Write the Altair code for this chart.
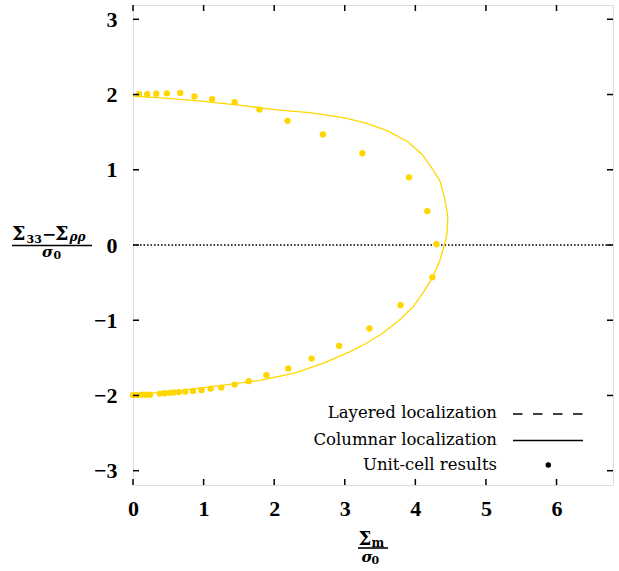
import altair as alt
import pandas as pd

# ---------------- data ----------------
curve_x = [0.0, 0.5, 1.0, 1.5, 2.0, 2.5, 3.0, 3.3, 3.6, 3.9, 4.1, 4.25, 4.35, 4.42, 4.46, 4.45,
           4.41, 4.35, 4.25, 4.12, 3.97, 3.77, 3.54, 3.3, 3.07, 2.7, 2.3, 1.8, 1.23, 0.8, 0.5, 0.0]
curve_y = [1.98, 1.95, 1.91, 1.86, 1.80, 1.76, 1.69, 1.62, 1.52, 1.37, 1.20, 1.00, 0.85, 0.60, 0.38, 0.15,
           0.0, -0.2, -0.42, -0.62, -0.82, -1.0, -1.17, -1.31, -1.42, -1.57, -1.70, -1.80, -1.87, -1.92, -1.95, -1.99]

dots_x = [0.085, 0.20, 0.33, 0.48, 0.67, 0.87, 1.12, 1.44, 1.79, 2.19, 2.69, 3.25, 3.91, 4.17, 4.30,
          4.24, 3.79, 3.35, 2.92, 2.53, 2.20, 1.89, 1.64, 1.44, 1.25, 1.10, 0.97, 0.85, 0.74, 0.65,
          0.58, 0.52, 0.45, 0.38, 0.24, 0.18, 0.12, 0.06, 0.0]
dots_y = [2.005, 2.005, 2.01, 2.015, 2.02, 1.975, 1.94, 1.90, 1.80, 1.65, 1.47, 1.22, 0.90, 0.45, 0.01,
          -0.43, -0.80, -1.11, -1.34, -1.51, -1.64, -1.73, -1.81, -1.855, -1.895, -1.91, -1.93, -1.94, -1.95, -1.955,
          -1.96, -1.965, -1.97, -1.975, -1.99, -1.99, -1.99, -1.995, -1.995]

x_ticks = [0, 1, 2, 3, 4, 5, 6]
y_ticks = [-3, -2, -1, 0, 1, 2, 3]
legend_labels = ["Layered localization", "Columnar localization", "Unit-cell results"]

X_DOMAIN = [0, 6.8]
Y_DOMAIN = [-3.19, 3.19]

GOLD = "#FFD700"
W, H = 480, 480

curve_df = pd.DataFrame({"x": curve_x, "y": curve_y, "i": list(range(len(curve_x)))})
dots_df = pd.DataFrame({"x": dots_x, "y": dots_y})
xt_df = pd.DataFrame({"v": x_ticks})
yt_df = pd.DataFrame({"v": y_ticks})

xs = alt.Scale(domain=X_DOMAIN, nice=False, zero=False)
ys = alt.Scale(domain=Y_DOMAIN, nice=False, zero=False)

x_axis = alt.Axis(values=x_ticks, title=None, domain=False, ticks=False, tickSize=0, grid=False,
                  labelFont="Liberation Serif", labelFontWeight="bold", labelFontSize=22,
                  labelColor="black", labelPadding=13, format="d", labelFlush=False)
y_axis = alt.Axis(values=y_ticks, title=None, domain=False, ticks=False, tickSize=0, grid=False,
                  labelFont="Liberation Serif", labelFontWeight="bold", labelFontSize=22,
                  labelColor="black", labelPadding=16, format="d", labelFlush=False)

curve = alt.Chart(curve_df).mark_line(color=GOLD, strokeWidth=1.3).encode(
    x=alt.X("x:Q", scale=xs, axis=x_axis),
    y=alt.Y("y:Q", scale=ys, axis=y_axis),
    order=alt.Order("i:Q"),
)

dots = alt.Chart(dots_df).mark_circle(color=GOLD, size=40, opacity=1).encode(
    x=alt.X("x:Q", scale=xs),
    y=alt.Y("y:Q", scale=ys),
)

zero_line = alt.Chart(pd.DataFrame({"v": [0]})).mark_rule(
    color="black", strokeWidth=1.6, strokeDash=[1.6, 1.9]
).encode(y=alt.Y("v:Q", scale=ys), x=alt.value(0), x2=alt.value(W))

# inward ticks (mirrored on all four sides)
tick_style = dict(color="black", strokeWidth=1.5)
left_ticks = alt.Chart(yt_df).mark_rule(**tick_style).encode(
    y=alt.Y("v:Q", scale=ys), x=alt.value(0), x2=alt.value(6))
right_ticks = alt.Chart(yt_df).mark_rule(**tick_style).encode(
    y=alt.Y("v:Q", scale=ys), x=alt.value(W), x2=alt.value(W - 6))
bottom_ticks = alt.Chart(xt_df).mark_rule(**tick_style).encode(
    x=alt.X("v:Q", scale=xs), y=alt.value(H), y2=alt.value(H - 6))
top_ticks = alt.Chart(xt_df).mark_rule(**tick_style).encode(
    x=alt.X("v:Q", scale=xs), y=alt.value(0), y2=alt.value(6))


def txt(s, x, y, size, weight="normal", style="normal", align="left", font="DejaVu Serif"):
    return alt.Chart(pd.DataFrame({"t": [s]})).mark_text(
        align=align, baseline="alphabetic", fontSize=size, fontWeight=weight,
        fontStyle=style, font=font, color="black"
    ).encode(text="t:N", x=alt.value(x), y=alt.value(y))


def hbar(x1, x2, y, w=1.6):
    return alt.Chart(pd.DataFrame({"a": [0]})).mark_rule(color="black", strokeWidth=w).encode(
        x=alt.value(x1), x2=alt.value(x2), y=alt.value(y))


# y-axis title: (Σ33 − Σρρ) / σ0
ytitle = [
    txt("Σ", -121, 235, 19, "bold"),
    txt("33", -106.5, 237.5, 11, "bold"),
    txt("−", -91, 235, 17, "bold"),
    txt("Σ", -78, 235, 19, "bold"),
    txt("ρρ", -63.5, 236, 12, "bold", "italic"),
    hbar(-121, -41, 240.5),
    txt("σ", -91, 251.7, 15, "bold", "italic"),
    txt("0", -79.5, 254, 11, "bold"),
]

# x-axis title: Σm / σ0
xtitle = [
    txt("Σ", 225.5, 540, 18, "bold"),
    txt("m", 238.5, 541.5, 12, "bold"),
    hbar(225, 255, 543),
    txt("σ", 228.5, 557.3, 15, "bold", "italic"),
    txt("0", 238.5, 559, 11, "bold"),
]

# legend
LS = 16.5
leg = [
    txt(legend_labels[0], 364, 413, LS, align="right"),
    txt(legend_labels[1], 364, 440, LS, align="right"),
    txt(legend_labels[2], 364, 465, LS, align="right"),
    alt.Chart(pd.DataFrame({"a": [0]})).mark_rule(color="black", strokeWidth=1.3, strokeDash=[9.5, 10.5]).encode(
        x=alt.value(380), x2=alt.value(450), y=alt.value(409)),
    alt.Chart(pd.DataFrame({"a": [0]})).mark_rule(color="black", strokeWidth=1.3).encode(
        x=alt.value(380), x2=alt.value(450), y=alt.value(435.5)),
    alt.Chart(pd.DataFrame({"a": [0]})).mark_point(
        color="black", filled=True, shape="circle", size=30, opacity=1).encode(
        x=alt.value(415.3), y=alt.value(460)),
]

chart = alt.layer(
    zero_line, curve, dots, left_ticks, right_ticks, bottom_ticks, top_ticks,
    *ytitle, *xtitle, *leg
).properties(
    width=W, height=H,
    autosize=alt.AutoSizeParams(type="none"),
    padding={"left": 133, "top": 5, "right": 6, "bottom": 86},
).configure_view(
    stroke="black", strokeWidth=1.6
).configure(background="white")

chart.save("out.html", embed_options={"renderer": "svg", "actions": False})
